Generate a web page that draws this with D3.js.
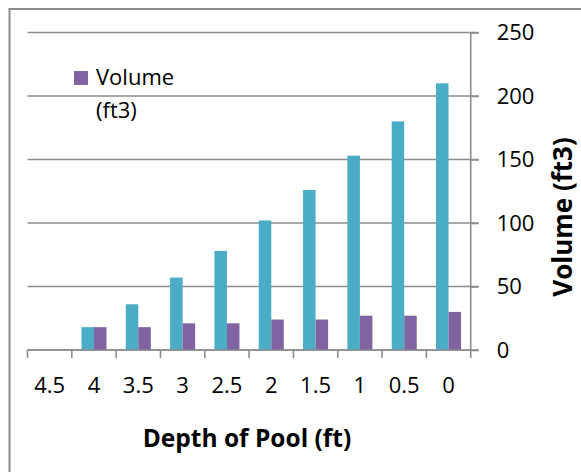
<!DOCTYPE html>
<html>
<head>
<meta charset="utf-8">
<script src="https://cdn.jsdelivr.net/npm/d3@7"></script>
<style>
  html, body { margin: 0; padding: 0; background: #fff; }
  svg { display: block; font-family: "Open Sans", sans-serif; }
</style>
</head>
<body>
<svg id="chart"></svg>
<script>
document.addEventListener("DOMContentLoaded", function () {

    // ================================
    // DATA
    // ================================
    const depths = ["4.5", "4", "3.5", "3", "2.5", "2", "1.5", "1", "0.5", "0"];
    const seriesNames = ["Series A", "Volume (ft3)"];
    const blueValues = [0, 18, 36, 57, 78, 102, 126, 153, 180, 210];
    const volumeValues = [0, 18, 18, 21, 21, 24, 24, 27, 27, 30];
    const yTicks = [0, 50, 100, 150, 200, 250];

    const colors = ["#4BACC6", "#8064A2"];
    const gray = "#8c8c8c";

    // ================================
    // SVG + SCALES
    // ================================
    const width = 581;
    const height = 472;

    const plot = { left: 27.5, right: 470.7, top: 32.5, bottom: 350 };

    const svg = d3.select("#chart")
        .attr("width", width)
        .attr("height", height);

    // outer chart frame (runs off the right/bottom edge)
    svg.append("rect")
        .attr("x", 9.5)
        .attr("y", 9)
        .attr("width", 700)
        .attr("height", 600)
        .attr("fill", "none")
        .attr("stroke", gray)
        .attr("stroke-width", 2);

    const x = d3.scaleBand()
        .domain(depths)
        .range([plot.left, plot.right])
        .paddingInner(0)
        .paddingOuter(0);

    const x1 = d3.scaleBand()
        .domain(seriesNames)
        .range([0, x.bandwidth()])
        .paddingInner(0)
        .paddingOuter(0.77);

    const y = d3.scaleLinear()
        .domain([0, 250])
        .range([plot.bottom, plot.top]);

    // ================================
    // GRIDLINES
    // ================================
    svg.append("g")
        .selectAll("line")
        .data(yTicks)
        .join("line")
        .attr("x1", plot.left)
        .attr("x2", plot.right + 8)
        .attr("y1", d => y(d))
        .attr("y2", d => y(d))
        .attr("stroke", gray)
        .attr("stroke-width", 1.6);

    // ================================
    // BARS
    // ================================
    const rows = depths.map((d, i) => ({
        depth: d,
        values: [blueValues[i], volumeValues[i]]
    }));

    const groups = svg.append("g")
        .selectAll("g")
        .data(rows)
        .join("g")
        .attr("transform", d => `translate(${x(d.depth)},0)`);

    groups.selectAll("rect")
        .data(d => d.values.map((v, k) => ({ key: seriesNames[k], value: v, k: k })))
        .join("rect")
        .attr("x", d => x1(d.key))
        .attr("width", x1.bandwidth())
        .attr("y", d => y(d.value))
        .attr("height", d => y(0) - y(d.value))
        .attr("fill", d => colors[d.k]);

    // ================================
    // AXES
    // ================================
    // right value axis
    const yAxis = d3.axisRight(y)
        .tickValues(yTicks)
        .tickSize(8)
        .tickPadding(18);

    const gy = svg.append("g")
        .attr("transform", `translate(${plot.right},0)`)
        .call(yAxis);

    gy.select(".domain").remove();
    gy.selectAll(".tick line").attr("stroke", gray).attr("stroke-width", 1.6);
    gy.selectAll(".tick text")
        .attr("font-family", "Open Sans")
        .attr("font-size", "22px")
        .attr("fill", "#000");

    svg.append("line")
        .attr("x1", plot.right)
        .attr("x2", plot.right)
        .attr("y1", plot.top)
        .attr("y2", plot.bottom + 8)
        .attr("stroke", gray)
        .attr("stroke-width", 1.6);

    // bottom category axis
    svg.append("line")
        .attr("x1", plot.left)
        .attr("x2", plot.right)
        .attr("y1", plot.bottom)
        .attr("y2", plot.bottom)
        .attr("stroke", gray)
        .attr("stroke-width", 1.6);

    svg.append("g")
        .selectAll("line")
        .data(depths)
        .join("line")
        .attr("x1", d => x(d))
        .attr("x2", d => x(d))
        .attr("y1", plot.bottom)
        .attr("y2", plot.bottom + 8)
        .attr("stroke", gray)
        .attr("stroke-width", 1.6);

    svg.append("g")
        .selectAll("text")
        .data(depths)
        .join("text")
        .attr("x", d => x(d) + x.bandwidth() / 2)
        .attr("y", 393)
        .attr("text-anchor", "middle")
        .attr("font-size", "22px")
        .attr("fill", "#000")
        .text(d => d);

    // ================================
    // AXIS TITLES
    // ================================
    svg.append("text")
        .attr("x", 247)
        .attr("y", 447)
        .attr("text-anchor", "middle")
        .attr("font-size", "24.5px")
        .attr("font-weight", "700")
        .attr("fill", "#000")
        .text("Depth of Pool (ft)");

    svg.append("text")
        .attr("transform", "translate(572,217) rotate(-90)")
        .attr("text-anchor", "middle")
        .attr("font-size", "26px")
        .attr("font-weight", "700")
        .attr("fill", "#000")
        .text("Volume (ft3)");

    // ================================
    // LEGEND (only the volume series)
    // ================================
    const legend = svg.append("g")
        .attr("transform", "translate(74,71)");

    legend.append("rect")
        .attr("width", 14)
        .attr("height", 14)
        .attr("fill", colors[1]);

    legend.append("text")
        .attr("x", 22)
        .attr("y", 14)
        .attr("font-size", "22px")
        .attr("fill", "#000")
        .text("Volume");

    legend.append("text")
        .attr("x", 22)
        .attr("y", 47)
        .attr("font-size", "22px")
        .attr("fill", "#000")
        .text("(ft3)");
});
</script>
</body>
</html>
